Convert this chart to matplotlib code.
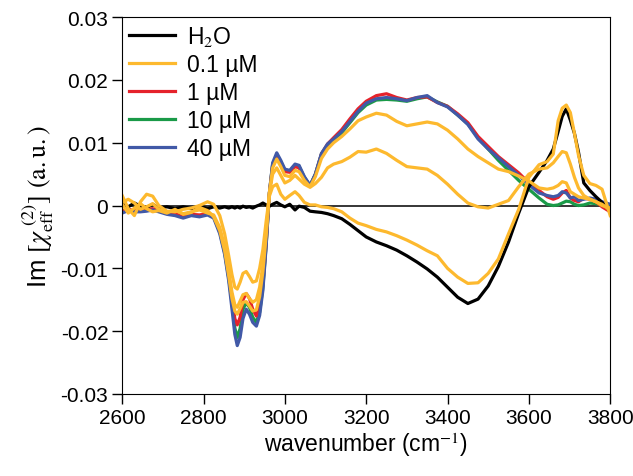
import numpy as np
import matplotlib
matplotlib.use('Agg')
import matplotlib.pyplot as plt

plt.rcParams['font.family'] = ['Liberation Sans', 'DejaVu Sans']
plt.rcParams['mathtext.fontset'] = 'stix'

# wavenumber grid (cm-1)
wn = [2600, 2615, 2630, 2645, 2660, 2675, 2690, 2710, 2730, 2750, 2770, 2790, 2810, 2825,
      2840, 2852, 2862, 2870, 2877, 2883, 2890, 2897, 2905, 2913, 2921, 2930, 2938, 2946,
      2954, 2962, 2970, 2980, 2990, 3000, 3012, 3025, 3035, 3048, 3062, 3075, 3090, 3105,
      3120, 3140, 3160, 3180, 3200, 3225, 3250, 3275, 3300, 3325, 3350, 3375, 3400, 3425,
      3450, 3475, 3500, 3525, 3550, 3575, 3600, 3625, 3645, 3660, 3672, 3682, 3692, 3702,
      3712, 3722, 3735, 3750, 3765, 3780, 3800]

# values in units of 1e-3
h2o = [0.3, -0.2, 0.4, -0.1, -0.3, 0.2, -0.4, -0.2, -0.5, -0.2, -0.5, -0.1, -0.5, -0.2,
       -0.4, -0.2, -0.4, -0.2, -0.4, -0.2, -0.4, -0.1, -0.3, -0.2, -0.4, -0.1, 0.1, 0.4,
       0.1, -0.1, 0.2, 0.5, 0.1, -0.2, 0.2, -0.7, -0.1, -0.3, -0.9, -1.0, -1.1, -1.3,
       -1.6, -2.1, -3.0, -4.0, -5.0, -5.8, -6.4, -7.1, -8.0, -9.0, -10.1, -11.4, -13.0, -14.6,
       -15.6, -14.9, -12.8, -9.7, -5.8, -1.2, 3.0, 5.3, 7.2, 9.0, 11.8, 14.2, 15.4, 13.6,
       11.5, 8.5, 3.6, 2.4, 1.4, 0.5, -0.9]

uM40 = [-1.2, -0.8, -1.0, -1.0, -0.9, -0.7, -1.0, -1.4, -1.6, -2.0, -1.6, -1.8, -1.5, -2.0,
        -4.5, -7.8, -12.0, -16.5, -20.5, -22.3, -21.0, -18.0, -16.5, -17.3, -18.6, -19.2, -17.5, -13.5,
        -6.5, 2.0, 6.8, 8.4, 7.2, 5.8, 5.6, 6.6, 6.4, 4.6, 3.2, 5.0, 8.3, 9.8,
        10.6, 11.8, 13.4, 15.0, 16.3, 17.0, 17.2, 17.0, 16.7, 17.2, 17.5, 16.4, 15.7, 14.4,
        12.9, 10.6, 9.0, 7.6, 6.2, 4.8, 3.3, 2.0, 1.6, 1.4, 1.6, 2.2, 2.0, 1.2,
        1.4, 0.8, 1.0, 1.2, 1.0, 0.6, 0.2]

uM1 = [-0.9, -0.6, -0.8, -0.7, -0.6, -0.5, -0.8, -1.1, -1.3, -1.7, -1.4, -1.5, -1.3, -1.7,
       -4.0, -7.2, -11.0, -14.5, -18.0, -19.0, -17.8, -15.0, -14.0, -14.8, -16.5, -17.6, -16.0, -12.5,
       -6.0, 2.0, 6.4, 7.8, 6.8, 5.4, 5.3, 6.2, 6.0, 4.4, 3.1, 4.9, 8.2, 9.8,
       10.8, 12.1, 13.8, 15.4, 16.6, 17.5, 17.8, 17.2, 16.8, 17.2, 17.3, 16.4, 15.8, 14.6,
       13.2, 11.0, 9.4, 7.8, 6.5, 5.2, 3.6, 2.4, 1.4, 1.0, 1.3, 2.0, 2.4, 1.2,
       0.8, 0.6, 1.2, 1.0, 0.6, -0.2, -1.0]

uM10 = [-1.0, -0.7, -0.9, -0.8, -0.7, -0.6, -0.9, -1.2, -1.5, -1.8, -1.5, -1.6, -1.4, -1.8,
        -4.2, -7.5, -11.5, -15.5, -19.5, -21.0, -19.6, -16.5, -15.5, -16.2, -17.8, -18.6, -17.0, -13.0,
        -6.3, 2.0, 6.6, 8.0, 7.0, 5.6, 5.5, 6.4, 6.2, 4.5, 3.2, 5.0, 8.2, 9.6,
        10.5, 11.6, 13.2, 14.8, 16.0, 16.8, 16.9, 16.8, 16.6, 17.0, 17.3, 16.5, 15.8, 14.4,
        13.0, 10.8, 9.0, 7.2, 5.6, 4.0, 2.6, 1.2, 0.2, 0.0, 0.1, 0.4, 0.7, 0.6,
        0.2, 0.0, 0.1, 0.4, 0.3, 0.0, -0.3]

# 0.1 uM series (orange)
ora = [1.6, -0.5, -1.6, 0.6, 1.8, 1.5, 0.0, -0.9, -1.0, -0.6, -0.4, 0.0, 0.6, 0.2,
       -1.6, -4.5, -8.0, -11.0, -13.0, -13.3, -12.2, -10.8, -10.5, -11.3, -12.2, -12.0, -10.0, -7.0,
       -2.5, 1.5, 3.0, 3.4, 1.8, 1.0, 1.6, 2.2, 1.6, 0.5, 0.1, 0.1, -0.2, -0.3,
       -0.5, -1.0, -2.0, -2.8, -3.2, -3.8, -4.2, -4.8, -5.5, -6.3, -7.2, -8.0, -10.0, -11.4,
       -12.4, -12.3, -10.8, -8.5, -4.5, -0.6, 4.5, 6.5, 7.0, 8.2, 13.5, 15.5, 16.0, 14.8,
       11.5, 8.0, 4.8, 3.5, 3.2, 2.6, -1.6]

orb = [0.5, 1.0, 0.4, -0.6, -0.2, 0.3, -0.6, -1.0, -0.8, -1.3, -1.0, -0.7, -1.2, -1.5,
       -3.5, -6.5, -10.5, -13.8, -15.8, -16.2, -15.2, -14.2, -14.0, -14.8, -15.4, -15.0, -13.0, -9.5,
       -4.0, 2.0, 5.0, 6.0, 4.8, 3.6, 4.0, 4.8, 4.2, 3.4, 2.9, 3.5, 4.5, 6.0,
       6.6, 7.0, 7.7, 8.6, 8.5, 9.0, 8.3, 7.2, 6.2, 6.0, 5.8, 4.8, 3.4, 1.8,
       0.4, -0.2, -0.4, 0.2, 0.8, 3.0, 5.0, 5.8, 6.0, 6.8, 7.8, 8.6, 8.4, 6.6,
       4.5, 2.8, 1.6, 1.0, 0.6, 0.2, -0.8]

orc = [0.2, -1.2, -0.4, 0.3, -0.5, -1.0, -0.8, -1.2, -0.6, -1.4, -1.1, -0.3, -0.8, -1.8,
       -4.0, -7.2, -11.2, -14.8, -16.8, -17.3, -16.4, -15.4, -15.3, -16.0, -16.8, -16.6, -14.5, -10.5,
       -4.8, 2.0, 6.0, 7.4, 6.2, 4.8, 4.6, 5.6, 5.4, 4.0, 3.0, 4.6, 7.5, 9.0,
       10.0, 11.0, 12.2, 13.5, 14.1, 14.7, 14.4, 13.4, 12.7, 13.0, 13.3, 13.0, 12.0, 10.6,
       9.0, 7.8, 6.8, 5.8, 5.4, 4.7, 3.9, 2.8, 2.6, 2.8, 3.2, 3.8, 3.6, 2.2,
       1.8, 1.4, 1.2, 1.0, 0.6, 0.0, -0.4]

wn = np.array(wn)
orange = '#FDB92E'
lw = 2.3

fig = plt.figure(figsize=(6.33, 4.77), dpi=100)
ax = fig.add_axes([0.193, 0.172, 0.771, 0.790])

ax.axhline(0, color='black', lw=1.1, zorder=1)

lg = ax.plot(wn, np.array(uM10) * 1e-3, color='#1A9A48', lw=lw, label='10 µM')
lr = ax.plot(wn, np.array(uM1) * 1e-3, color='#E5222B', lw=lw, label='1 µM')
lb = ax.plot(wn, np.array(uM40) * 1e-3, color='#4159A7', lw=lw, label='40 µM')
lk = ax.plot(wn, np.array(h2o) * 1e-3, color='black', lw=lw, label='H$_2$O')
lo = ax.plot(wn, np.array(ora) * 1e-3, color=orange, lw=lw, label='0.1 µM')
ax.plot(wn, np.array(orb) * 1e-3, color=orange, lw=lw)
ax.plot(wn, np.array(orc) * 1e-3, color=orange, lw=lw)

ax.set_xlim(2600, 3800)
ax.set_ylim(-0.03, 0.03)
ax.set_xticks([2600, 2800, 3000, 3200, 3400, 3600, 3800])
ax.set_yticks([-0.03, -0.02, -0.01, 0, 0.01, 0.02, 0.03])
ax.set_yticklabels(['-0.03', '-0.02', '-0.01', '0', '0.01', '0.02', '0.03'])
ax.tick_params(direction='out', length=7, width=1, labelsize=15, pad=3)

ax.set_xlabel('wavenumber (cm$^{-1}$)', fontsize=16.5, labelpad=2)
ax.set_ylabel(r'Im $[\chi_{\mathrm{eff}}^{\ (2)}]$ $\mathrm{(a.u.)}$', fontsize=18.5, labelpad=3)

handles = [lk[0], lo[0], lr[0], lg[0], lb[0]]
ax.legend(handles=handles, loc='upper left', frameon=False, fontsize=16.5,
          handlelength=2.0, handletextpad=0.55, labelspacing=0.22,
          borderaxespad=0.05, borderpad=0.25)

fig.savefig('out.png', dpi=100)
